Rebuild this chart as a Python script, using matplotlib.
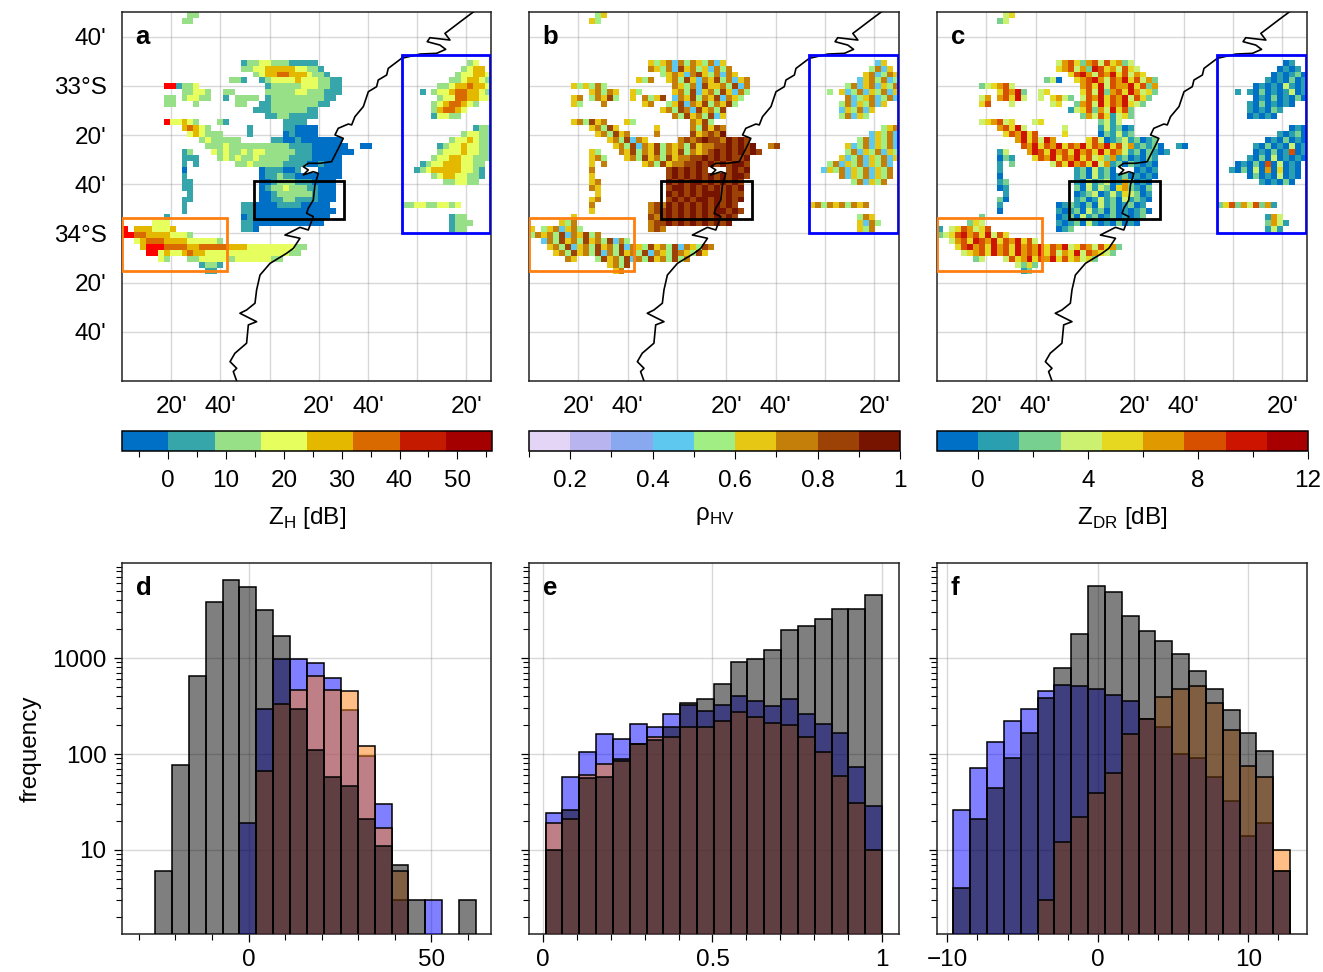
import numpy as np
import matplotlib
matplotlib.use("Agg")
import matplotlib.pyplot as plt
from matplotlib.colors import ListedColormap, BoundaryNorm
from matplotlib.cm import ScalarMappable
from matplotlib.patches import Rectangle
from matplotlib.ticker import FixedLocator, NullFormatter, FixedFormatter

plt.rcParams['font.family'] = ['Liberation Sans', 'DejaVu Sans']
plt.rcParams['mathtext.fontset'] = 'custom'
plt.rcParams['mathtext.rm'] = 'Liberation Sans'

# -----------------------------
# Coastline and boxes
# -----------------------------
coast_lon = [152.380, 152.301, 152.233, 152.188, 152.222, 152.086, 152.068, 152.154, 152.193, 152.132,
             152.019, 151.894, 151.804, 151.793, 151.736, 151.725, 151.669, 151.635, 151.578, 151.556,
             151.533, 151.465, 151.443, 151.499, 151.472, 151.443, 151.420, 151.341, 151.262, 151.228,
             151.262, 151.228, 151.296, 151.330, 151.307, 151.296, 151.262, 151.251, 151.296, 151.262,
             151.206, 151.104, 151.206, 151.161, 151.115, 151.003, 150.935, 150.912, 150.901, 150.844,
             150.799, 150.844, 150.912, 150.856, 150.844, 150.765, 150.732, 150.777, 150.754, 150.777]
coast_lat = [-32.500, -32.559, -32.611, -32.645, -32.690, -32.674, -32.701, -32.724, -32.753, -32.780,
             -32.785, -32.814, -32.882, -32.927, -32.961, -33.006, -33.040, -33.141, -33.209, -33.265,
             -33.259, -33.288, -33.333, -33.356, -33.412, -33.469, -33.514, -33.525, -33.525, -33.548,
             -33.570, -33.604, -33.582, -33.593, -33.672, -33.774, -33.830, -33.864, -33.886, -33.977,
             -33.959, -34.011, -34.033, -34.101, -34.135, -34.203, -34.282, -34.383, -34.473, -34.519,
             -34.541, -34.564, -34.598, -34.620, -34.744, -34.812, -34.869, -34.914, -34.936, -35.000]

# lon min, lon max, lat min, lat max
box_blue = (151.895, 152.493, -33.999, -32.791)
box_black = (150.894, 151.504, -33.900, -33.645)
box_orange = (150.003, 150.711, -34.252, -33.898)

# -----------------------------
# Radar fields: row -> (first column, class digits)
# -----------------------------
zh_rows = {
    0: [(11, "22")], 1: [(10, "22")],
    8: [(20, "1223322211111"), (58, "23")],
    9: [(20, "22334444433221"), (57, "2344")],
    10: [(22, "2344554443221"), (56, "233443")],
    11: [(18, "221"), (23, "12333343332211"), (55, "2234432")],
    12: [(7, "88"), (9, "1223"), (24, "1222223332211"), (53, "223445443")],
    13: [(10, "22332"), (17, "22"), (24, "2222233222111"), (50, "1"), (52, "2334554432")],
    14: [(7, "22"), (10, "23322"), (17, "1"), (19, "2222"), (24, "122222222211"), (53, "233554433")],
    15: [(7, "22"), (12, "2"), (19, "22"), (23, "112222222211"), (52, "23455432")],
    16: [(22, "11122222211"), (52, "245543")],
    17: [(24, "112211111"), (52, "13322")],
    18: [(7, "8"), (8, "33432"), (16, "21"), (27, "1111")],
    19: [(10, "45432"), (21, "1"), (27, "110000"), (59, "122")],
    20: [(11, "343222"), (21, "1"), (27, "010000"), (57, "23322")],
    21: [(13, "2322222"), (25, "110010000000"), (55, "2334322")],
    22: [(14, "222322222222221111000000"), (40, "00"), (53, "1233433221")],
    23: [(10, "12"), (15, "323223233222221110000000"), (53, "233343322")],
    24: [(10, "11"), (12, "1"), (16, "232322322222111100000"), (52, "2334433222")],
    25: [(10, "1"), (12, "1"), (19, "223222221111001000"), (50, "12334443322")],
    26: [(10, "0"), (23, "0111001"), (33, "0000"), (49, "123444443321")],
    27: [(10, "1"), (23, "01121100000000"), (52, "234433221")],
    28: [(10, "11"), (23, "0012221110000"), (54, "223322")],
    29: [(10, "11"), (23, "0122322211000")],
    30: [(11, "1"), (23, "0012222221000")],
    31: [(10, "11"), (23, "0011221111000")],
    32: [(10, "1"), (20, "110"), (23, "000111100000"), (47, "2233223323")],
    33: [(10, "1"), (20, "1100000000000000")],
    34: [(7, "1"), (20, "010000000000000"), (55, "122")],
    35: [(5, "333"), (20, "11000000000000"), (55, "1222")],
    36: [(0, "8"), (2, "4443334"), (20, "110"), (55, "122")],
    37: [(0, "88"), (2, "5544443332")],
    38: [(2, "345554444333332")],
    39: [(3, "4"), (4, "888"), (7, "555544555554443333333322")],
    40: [(4, "88"), (6, "3"), (7, "43345443333333333333322")],
    41: [(6, "32"), (11, "2233333233333322")],
    42: [(13, "1221")], 43: [(14, "11")],
}

rho_rows = {
    0: [(11, "45")], 1: [(10, "54")],
    8: [(20, "5456364654635"), (58, "35")],
    9: [(20, "65463756453646"), (57, "4635")],
    10: [(22, "4565367546365"), (56, "563465")],
    11: [(18, "546"), (23, "56475365746356"), (55, "3564634")],
    12: [(7, "54"), (9, "5464"), (24, "6546375564736"), (53, "463563546")],
    13: [(10, "56465"), (17, "54"), (24, "5647356475364"), (50, "4"), (52, "5346354635")],
    14: [(7, "56"), (10, "46574"), (17, "5"), (19, "6457"), (24, "365746573654"), (53, "634563463")],
    15: [(7, "54"), (12, "6"), (19, "56"), (23, "457365746574"), (52, "46354635")],
    16: [(22, "56476375647"), (52, "354635")],
    17: [(24, "647564735"), (52, "46354")],
    18: [(7, "5"), (8, "64756"), (16, "54"), (27, "6574")],
    19: [(10, "56475"), (21, "5"), (27, "647576"), (59, "456")],
    20: [(11, "564756"), (21, "6"), (27, "756768"), (57, "35463")],
    21: [(13, "5647365"), (25, "676787768787"), (55, "4635463")],
    22: [(14, "564736574656475667787878"), (40, "67"), (53, "5346354635")],
    23: [(10, "54"), (15, "657465746574656787878787"), (53, "463546354")],
    24: [(10, "56"), (12, "4"), (16, "564756475667787878778"), (52, "5346354635")],
    25: [(10, "5"), (12, "6"), (19, "564756677878787887"), (50, "46354635463")],
    26: [(10, "6"), (23, "7878787"), (33, "7878"), (49, "354635463546")],
    27: [(10, "5"), (23, "78787878787887"), (52, "635463546")],
    28: [(10, "56"), (23, "8787887878787"), (54, "463546")],
    29: [(10, "65"), (23, "7887878787878")],
    30: [(11, "5"), (23, "8787878887877")],
    31: [(10, "56"), (23, "7878788787878")],
    32: [(10, "6"), (20, "676"), (23, "878787878787"), (47, "5646564656")],
    33: [(10, "5"), (20, "6778787878788787")],
    34: [(7, "5"), (20, "767878787878787"), (55, "465")],
    35: [(5, "546"), (20, "67787878787878"), (55, "5364")],
    36: [(0, "5"), (2, "4563564"), (20, "676"), (55, "546")],
    37: [(0, "46"), (2, "5647365746")],
    38: [(2, "364756475647364")],
    39: [(3, "5"), (4, "647"), (7, "356475647365475647365476")],
    40: [(4, "56"), (6, "4"), (7, "75647364756473654765475")],
    41: [(6, "65"), (11, "4756473647564746")],
    42: [(13, "5647")], 43: [(14, "56")],
}

zdr_rows = {
    0: [(11, "34")], 1: [(10, "23")],
    8: [(20, "3564256364523"), (58, "01")],
    9: [(20, "45635276453643"), (57, "0101")],
    10: [(22, "4675365746354"), (56, "010120")],
    11: [(18, "230"), (23, "45675365746352"), (55, "1010201")],
    12: [(7, "23"), (9, "4563"), (24, "5647365574625"), (53, "010103101")],
    13: [(10, "46572"), (17, "34"), (24, "4637256475342"), (50, "1"), (52, "1020101301")],
    14: [(7, "35"), (10, "56473"), (17, "3"), (19, "4532"), (24, "365746573642"), (53, "010201020")],
    15: [(7, "46"), (12, "3"), (19, "34"), (23, "256374657432"), (52, "10201010")],
    16: [(22, "13462537462"), (52, "101021")],
    17: [(24, "253641342"), (52, "01010")],
    18: [(7, "3"), (8, "45634"), (16, "34"), (27, "2313")],
    19: [(10, "56473"), (21, "3"), (27, "131201"), (59, "010")],
    20: [(11, "465746"), (21, "4"), (27, "021312"), (57, "10120")],
    21: [(13, "5746375"), (25, "463012312012"), (55, "0102010")],
    22: [(14, "657465746574657463512120"), (40, "10"), (53, "1020103010")],
    23: [(10, "13"), (15, "576475647564746531202101"), (53, "010201601")],
    24: [(10, "02"), (12, "1"), (16, "465746574634251201021"), (52, "1020301010")],
    25: [(10, "1"), (12, "2"), (19, "364756473512021010"), (50, "01020603010")],
    26: [(10, "1"), (23, "1203120"), (33, "0101"), (49, "102030504010")],
    27: [(10, "0"), (23, "12031201201010"), (52, "020103010")],
    28: [(10, "12"), (23, "1031230152010"), (54, "101020")],
    29: [(10, "01"), (23, "2031320452102")],
    30: [(11, "1"), (23, "0123013143201")],
    31: [(10, "20"), (23, "1201312031210")],
    32: [(10, "1"), (20, "012"), (23, "102031201201"), (47, "2462536251")],
    33: [(10, "0"), (20, "1012031202010120")],
    34: [(7, "2"), (20, "012031201201012"), (55, "153")],
    35: [(5, "243"), (20, "10120310102010"), (55, "2531")],
    36: [(0, "1"), (2, "3465346"), (20, "012"), (55, "131")],
    37: [(0, "23"), (2, "4675647364")],
    38: [(2, "356476574657463")],
    39: [(3, "4"), (4, "675"), (7, "647564756574657346536452")],
    40: [(4, "34"), (6, "5"), (7, "64756475657463547365432")],
    41: [(6, "23"), (11, "3645746574645342")],
    42: [(13, "3242")], 43: [(14, "12")],
}

# -----------------------------
# Colour scales
# -----------------------------
zh_bounds = [-8, 0, 8, 16, 24, 32, 40, 48, 56]
zh_colors = ['#0070c6', '#36a6ab', '#98e088', '#e6ff5e', '#e5b800', '#d86a00', '#c41a00', '#a40000']
rho_bounds = [0.1, 0.2, 0.3, 0.4, 0.5, 0.6, 0.7, 0.8, 0.9, 1.0]
rho_colors = ['#e4d4f6', '#b8b4f0', '#88a8f0', '#5fc8ee', '#a0ee84', '#e6c814', '#c47e0a', '#9c4206', '#761400']
zdr_bounds = [-1.5, 0, 1.5, 3, 4.5, 6, 7.5, 9, 10.5, 12]
zdr_colors = ['#0070c6', '#2a9fb0', '#78d090', '#ccf070', '#e6d820', '#e09a00', '#d65000', '#cc1400', '#a80000']

# -----------------------------
# Histograms
# -----------------------------
zh_edges = np.linspace(-25.6, 62.2, 20)
zh_gray = [5, 75, 650, 3880, 6530, 5490, 3170, 1700, 293, 109, 57, 45, 20, 10, 6, 2, 0, 0, 2]
zh_blue = [0, 0, 0, 0, 0, 18, 293, 968, 968, 880, 620, 286, 95, 29, 2, 0, 2, 0, 0]
zh_orange = [0, 0, 0, 0, 0, 0, 66, 328, 463, 650, 463, 456, 120, 16, 5, 0, 0, 0, 0]

rho_edges = np.linspace(0.008, 1.0, 21)
rho_gray = [9, 25, 55, 57, 87, 125, 139, 191, 340, 378, 534, 912, 970, 1210, 1960, 2180, 2560, 3260, 3230, 4540]
rho_blue = [23, 57, 105, 159, 141, 204, 191, 259, 322, 277, 327, 400, 358, 315, 370, 263, 204, 166, 72, 28]
rho_orange = [18, 20, 59, 77, 84, 125, 148, 150, 191, 191, 221, 276, 240, 208, 200, 150, 103, 58, 30, 9]

zdr_edges = np.linspace(-9.6, 12.77, 21)
zdr_gray = [3, 20, 43, 89, 165, 380, 790, 1770, 5600, 4830, 2760, 1900, 1500, 1090, 740, 475, 290, 165, 107, 5]
zdr_blue = [25, 70, 134, 220, 293, 452, 518, 510, 480, 415, 358, 230, 190, 99, 89, 57, 31, 13, 18, 5]
zdr_orange = [0, 0, 0, 0, 0, 2, 11, 21, 38, 62, 160, 230, 394, 480, 510, 340, 177, 74, 57, 9]

# -----------------------------
# Layout helpers
# -----------------------------
W, H = 1323, 972
FS = 17.5


def px_axes(left, top, right, bottom):
    return fig.add_axes([left / W, 1 - bottom / H, (right - left) / W, (bottom - top) / H])


def field_grid(rows, bounds):
    # each digit is a class of the colour scale, stored as the class centre
    grid = np.full((62, 62), np.nan)
    for r, runs in rows.items():
        for col, digits in runs:
            for i, d in enumerate(digits[:62 - col]):
                k = int(d)
                if k < len(bounds) - 1:
                    grid[r, col + i] = (bounds[k] + bounds[k + 1]) / 2
                else:
                    grid[r, col + i] = bounds[-1] + 1
    return grid


fig = plt.figure(figsize=(W / 100, H / 100), dpi=100)

lon_edges = np.linspace(150, 152.5, 63)
lat_edges = np.linspace(-32.5, -35, 63)
lon_grid = [150 + k / 3 for k in range(1, 8)]
lon_labels = ["20'", "40'", "", "20'", "40'", "", "20'"]
lat_grid = [-32 - k / 3 for k in range(2, 9)]
lat_labels = ["40'", "33°S", "20'", "40'", "34°S", "20'", "40'"]

maps = [
    ('a', zh_rows, zh_bounds, zh_colors, (122, 491), [0, 10, 20, 30, 40, 50], ['0', '10', '20', '30', '40', '50'],
     [-5, 5, 15, 25, 35, 45, 55], r'Z$_{\mathrm{H}}$ [dB]'),
    ('b', rho_rows, rho_bounds, rho_colors, (529, 899), [0.2, 0.4, 0.6, 0.8, 1], ['0.2', '0.4', '0.6', '0.8', '1'],
     [0.1, 0.3, 0.5, 0.7, 0.9], r'ρ$_{\mathrm{HV}}$'),
    ('c', zdr_rows, zdr_bounds, zdr_colors, (937, 1307), [0, 4, 8, 12], ['0', '4', '8', '12'],
     [2, 6, 10], r'Z$_{\mathrm{DR}}$ [dB]'),
]

for i, (letter, rows, bounds, colors, (x0, x1), cticks, clabels, cminor, clabel) in enumerate(maps):
    ax = px_axes(x0, 12, x1, 381)
    cmap = ListedColormap(colors)
    cmap.set_over('#ff0000')
    norm = BoundaryNorm(bounds, cmap.N)
    ax.pcolormesh(lon_edges, lat_edges, field_grid(rows, bounds), cmap=cmap, norm=norm, zorder=2)
    ax.plot(coast_lon, coast_lat, color='black', lw=1.2, zorder=3)
    for box, col in [(box_blue, '#0000ff'), (box_black, 'black'), (box_orange, '#ff7f0e')]:
        ax.add_patch(Rectangle((box[0], box[2]), box[1] - box[0], box[3] - box[2],
                               fill=False, ec=col, lw=2, zorder=4))
    ax.set_xlim(150, 152.5)
    ax.set_ylim(-35, -32.5)
    ax.set_xticks(lon_grid)
    ax.set_xticklabels(lon_labels, fontsize=FS)
    ax.set_yticks(lat_grid)
    ax.set_yticklabels(lat_labels if i == 0 else [''] * 7, fontsize=FS)
    ax.tick_params(length=0, pad=11)
    ax.grid(True, color='#808080', alpha=0.3, lw=1)
    ax.set_axisbelow(True)
    for s in ax.spines.values():
        s.set_linewidth(1.1)
        s.set_color('#222222')
    ax.text(0.037, 0.932, letter, transform=ax.transAxes, fontsize=18.5, fontweight='bold', va='center', zorder=5)

    cax = px_axes(x0, 431, x1 + 1, 451)
    cb = fig.colorbar(ScalarMappable(norm=norm, cmap=cmap), cax=cax, orientation='horizontal',
                      spacing='proportional')
    cb.set_ticks(cticks)
    cb.set_ticklabels(clabels)
    cax.xaxis.set_minor_locator(FixedLocator(cminor))
    cax.tick_params(which='major', length=6, width=0.8, pad=8, labelsize=FS)
    cax.tick_params(which='minor', length=4, width=0.8)
    cb.outline.set_linewidth(1.1)
    cb.set_label(clabel, fontsize=FS, labelpad=9)

hists = [
    ('d', zh_edges, zh_gray, zh_blue, zh_orange, (122, 491), (-34.6, 66.3), [0, 50], ['0', '50'],
     [-30, -20, -10, 10, 20, 30, 40, 60]),
    ('e', rho_edges, rho_gray, rho_blue, rho_orange, (529, 899), (-0.041, 1.05), [0, 0.5, 1], ['0', '0.5', '1'],
     [0.1, 0.2, 0.3, 0.4, 0.6, 0.7, 0.8, 0.9]),
    ('f', zdr_edges, zdr_gray, zdr_blue, zdr_orange, (937, 1307), (-10.69, 13.9), [-10, 0, 10], ['\u221210', '0', '10'],
     [-8, -6, -4, -2, 2, 4, 6, 8, 12]),
]

for i, (letter, edges, gray, blue, orange, (x0, x1), xlim, xt, xtl, xminor) in enumerate(hists):
    ax = px_axes(x0, 563, x1, 934)
    widths = np.diff(edges)
    for vals, col in [(blue, '#0000ff'), (orange, '#ff7f0e'), (gray, 'black')]:
        vals = np.array(vals, dtype=float)
        keep = vals > 0
        ax.bar(edges[:-1][keep], vals[keep], width=widths[keep], bottom=1, align='edge',
               color=matplotlib.colors.to_rgba(col, 0.5), edgecolor='black', linewidth=1.1, zorder=3)
    ax.set_yscale('log')
    ax.set_ylim(1.33, 9800)
    ax.set_xlim(*xlim)
    ax.set_xticks(xt)
    ax.set_xticklabels(xtl, fontsize=FS)
    ax.xaxis.set_minor_locator(FixedLocator(xminor))
    ax.yaxis.set_major_locator(FixedLocator([10, 100, 1000]))
    ax.yaxis.set_major_formatter(FixedFormatter(['10', '100', '1000'] if i == 0 else ['', '', '']))
    ax.yaxis.set_minor_locator(FixedLocator([k * 10 ** e for e in range(0, 4) for k in range(2, 10)]))
    ax.yaxis.set_minor_formatter(NullFormatter())
    ax.tick_params(which='major', length=6, width=0.9, labelsize=FS, pad=5)
    ax.tick_params(which='minor', length=4, width=0.8)
    ax.grid(True, which='major', color='#808080', alpha=0.3, lw=1, zorder=1)
    ax.set_axisbelow(True)
    for s in ax.spines.values():
        s.set_linewidth(1.1)
        s.set_color('#222222')
    ax.text(0.037, 0.932, letter, transform=ax.transAxes, fontsize=18.5, fontweight='bold', va='center', zorder=5)
    if i == 0:
        ax.set_ylabel('frequency', fontsize=FS, labelpad=8)

fig.savefig('out.png', dpi=100)
